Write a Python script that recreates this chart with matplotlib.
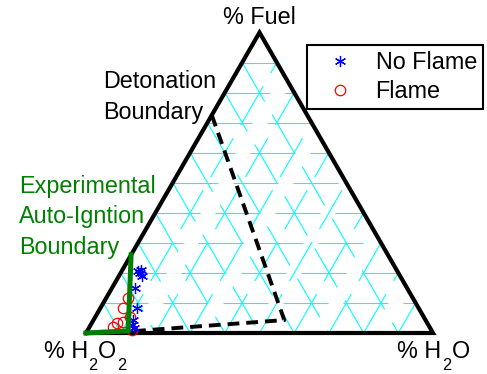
import numpy as np
import matplotlib
matplotlib.use("Agg")
import matplotlib.pyplot as plt
from matplotlib.lines import Line2D

plt.rcParams['font.family'] = ['Liberation Sans', 'DejaVu Sans']
plt.rcParams['lines.scale_dashes'] = False

# ---- data (fractions: fuel, water; H2O2 = 1 - fuel - water) ----
grid_levels = [0.1, 0.2, 0.3, 0.4, 0.5, 0.6, 0.7, 0.8, 0.9]

detonation_fuel = [0.725, 0.043, 0.005]
detonation_water = [0.0, 0.55, 0.12]

autoign_fuel = [0.26, 0.007, 0.0]
autoign_water = [0.0, 0.118, 0.0]

noflame_fuel = [0.199, 0.206, 0.190, 0.208, 0.149, 0.082, 0.043, 0.016, 0.027]
noflame_water = [0.056, 0.048, 0.067, 0.055, 0.067, 0.105, 0.113, 0.129, 0.118]

flame_fuel = [0.116, 0.082, 0.032, 0.038, 0.054, 0.021, 0.010]
flame_water = [0.062, 0.066, 0.072, 0.089, 0.100, 0.068, 0.127]

legend_labels = ['No Flame', 'Flame']
fuel_label = '% Fuel'
# (text, is_subscript) pieces
h2o2_label = [('% H', False), ('2', True), ('O', False), ('2', True)]
h2o_label = [('% H', False), ('2', True), ('O', False)]
detonation_label = 'Detonation\nBoundary'
autoign_label = 'Experimental\nAuto-Igntion\nBoundary'

S3 = np.sqrt(3) / 2


def to_xy(fuel, water):
    fuel = np.asarray(fuel, float)
    water = np.asarray(water, float)
    return water + fuel / 2, fuel * S3


W, H = 487, 374
fig = plt.figure(figsize=(W / 100, H / 100), dpi=100)
ax = fig.add_axes([86 / W, 41 / H, 347 / W, 300.5 / H])
ax.set_xlim(0, 1)
ax.set_ylim(0, S3)
ax.axis('off')

FS = 16.8
cyan = (0, 1, 1)
gkw = dict(color=cyan, lw=0.8, linestyle=(0, (32.4, 10.8)), clip_on=False, zorder=1)
for f in grid_levels:
    x, y = to_xy([f, f], [0, 1 - f])
    ax.plot(x, y, **gkw)
    x, y = to_xy([0, 1 - f], [f, f])
    ax.plot(x, y, **gkw)
    x, y = to_xy([1 - f, 0], [0, 1 - f])
    ax.plot(x, y, **gkw)

# triangle
x, y = to_xy([0, 0, 1, 0], [0, 1, 0, 0])
ax.plot(x, y, color='black', lw=3.0, clip_on=False, zorder=3, solid_joinstyle='miter')

# detonation boundary
x, y = to_xy(detonation_fuel, detonation_water)
ax.plot(x, y, color='black', lw=2.8, linestyle=(0, (8.5, 5.0)), clip_on=False, zorder=4)

# points
x, y = to_xy(flame_fuel, flame_water)
ax.plot(x, y, linestyle='none', marker='o', ms=7.5, mfc='none', mec='red', mew=0.9,
        clip_on=False, zorder=5)
x, y = to_xy(noflame_fuel, noflame_water)
ax.plot(x, y, linestyle='none', marker=(6, 2, 0), ms=8, mec='blue', color='blue', mew=0.9,
        clip_on=False, zorder=6)

# auto-ignition boundary
x, y = to_xy(autoign_fuel, autoign_water)
ax.plot(x, y, color='#008000', lw=3.6, clip_on=False, zorder=7, solid_joinstyle='miter')


def ft(px, py, s, **kw):
    kw.setdefault('fontsize', FS)
    return fig.text(px / W, 1 - py / H, s, **kw)


def sub_label(cx, base_y, parts):
    r = fig.canvas.get_renderer()
    items = []
    for s, sub in parts:
        t = ft(0, 0, s, fontsize=FS * 0.7 if sub else FS, ha='left', va='baseline')
        items.append((t, sub, t.get_window_extent(r).width + 0.5))
    total = sum(w for _, _, w in items)
    x = cx - total / 2
    for t, sub, w in items:
        t.set_position((x / W, 1 - (base_y + (12 if sub else 0)) / H))
        x += w


ft(259.5, 17, fuel_label, ha='center', va='center')
sub_label(85, 358, h2o2_label)
sub_label(434, 358, h2o_label)
ft(103, 97, detonation_label, ha='left', va='center', linespacing=1.4)
ft(19, 217, autoign_label, ha='left', va='center', linespacing=1.4, color='#008000')

handles = [Line2D([], [], linestyle='none', marker=(6, 2, 0), ms=8, mec='blue', color='blue', mew=0.9),
           Line2D([], [], linestyle='none', marker='o', ms=7.5, mfc='none', mec='red', mew=0.9)]
leg = fig.legend(handles, legend_labels, loc='upper left', bbox_to_anchor=(307 / W, 1 - 45 / H),
                 fontsize=FS, frameon=True, fancybox=False, framealpha=1, edgecolor='black',
                 borderpad=0.25, handlelength=2.3, handletextpad=0.39, labelspacing=0.26,
                 borderaxespad=0, numpoints=1)
leg.get_frame().set_linewidth(1.5)

fig.savefig('out.png', dpi=100)
